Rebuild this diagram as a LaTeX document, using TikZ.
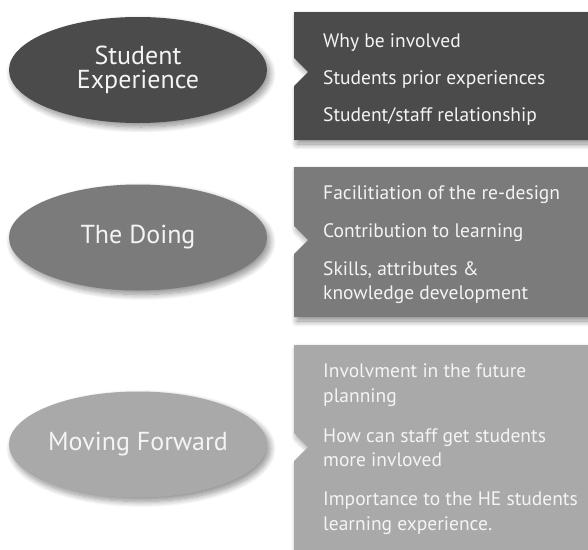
\documentclass[tikz,border=0pt]{standalone}
\usepackage{fontspec}
\setmainfont{PT Sans}
\usetikzlibrary{shapes.geometric,shadows.blur}
\definecolor{cdark}{HTML}{4B4B4B}
\definecolor{cmid}{HTML}{7B7B7B}
\definecolor{clight}{HTML}{A9A9A9}
\definecolor{ctext}{HTML}{F4F4F4}
\tikzset{
  softshadow/.style={blur shadow={shadow xshift=3pt, shadow yshift=-4pt, shadow blur steps=12, shadow blur radius=6pt, shadow opacity=45}},
  oval/.style={ellipse, minimum width=258pt, minimum height=106pt, inner sep=0pt, softshadow, text=ctext, align=center, font=\fontsize{26}{24}\selectfont},
  itemtxt/.style={anchor=base west, inner sep=0pt, text=ctext, font=\fontsize{19.5}{24}\selectfont},
}
\begin{document}
\begin{tikzpicture}[x=1pt,y=-1pt]
\useasboundingbox (0,0) rectangle (588,549);
% boxes with notches
\path[fill=cdark, softshadow] (294,12) -- (600,12) -- (600,140) -- (294,140) -- (294,86) -- (308,72) -- (294,58) -- cycle;
\path[fill=cmid, softshadow] (294,167) -- (600,167) -- (600,317) -- (294,317) -- (294,254) -- (308,240) -- (294,226) -- cycle;
\path[fill=clight, softshadow] (294,345) -- (600,345) -- (600,560) -- (294,560) -- (294,461) -- (308,447) -- (294,433) -- cycle;
% ovals
\node[oval, fill=cdark] (se) at (138,70) {Student\\Experience};
\node[oval, fill=cmid] (td) at (138,237.5) {The Doing};
\node[oval, fill=clight] (mf) at (138,444.5) {Moving Forward};
% items box 1
\node[itemtxt] (a1) at (323,47) {Why be involved};
\node[itemtxt] (a2) at (323,84) {Students prior experiences};
\node[itemtxt] (a3) at (323,121) {Student/staff relationship};
% items box 2
\node[itemtxt] (b1) at (323,199) {Facilitiation of the re-design};
\node[itemtxt] (b2) at (323,237) {Contribution to learning};
\node[itemtxt] (b3) at (323,275) {Skills, attributes \&};
\node[itemtxt] (b4) at (323,299) {knowledge development};
% items box 3
\node[itemtxt] (c1) at (323,377) {Involvment in the future};
\node[itemtxt] (c2) at (323,402) {planning};
\node[itemtxt] (c3) at (323,442) {How can staff get students};
\node[itemtxt] (c4) at (323,466) {more invloved};
\node[itemtxt] (c5) at (323,505) {Importance to the HE students};
\node[itemtxt] (c6) at (323,530) {learning experience.};
\end{tikzpicture}
\end{document}
